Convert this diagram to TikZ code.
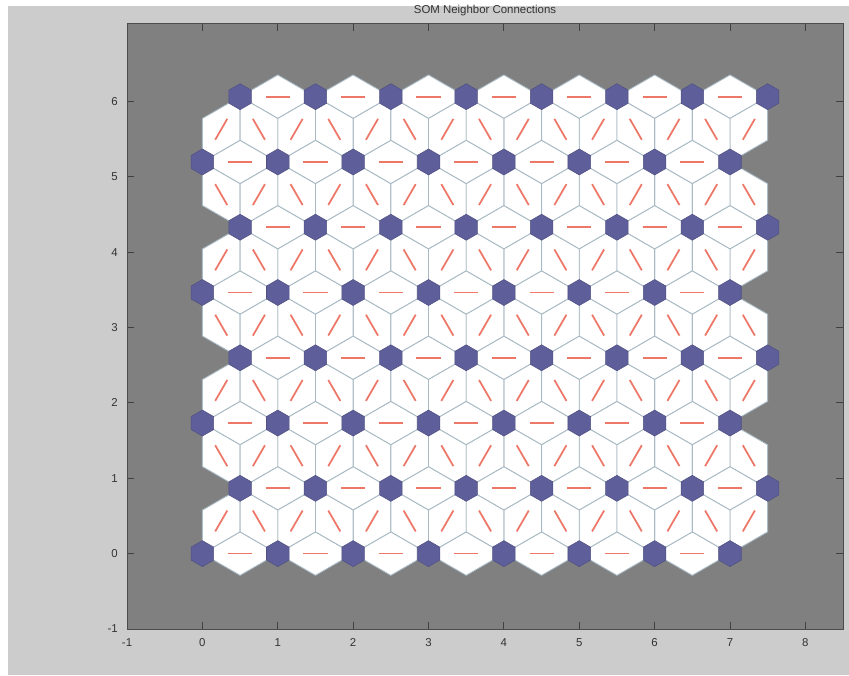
\documentclass[tikz,border=0pt]{standalone}
\usepackage{fontspec}
\setmainfont{Liberation Sans}
\usetikzlibrary{calc, shapes.geometric}
\definecolor{figbg}{RGB}{204,204,204}
\definecolor{axbg}{RGB}{128,128,128}
\definecolor{celledge}{RGB}{168,186,196}
\definecolor{connred}{RGB}{238,120,104}
\definecolor{neuronblue}{RGB}{94,94,154}
% one neighbour connection: white cell between the two neurons, red stroke along it
\newcommand{\somconn}[2]{%
  \filldraw[cellface] (#1) -- ($(#1)!0.57735!30:(#2)$) -- (#2) -- ($(#1)!0.57735!-30:(#2)$) -- cycle;
  \draw[connline] ($(#1)!0.34!(#2)$) -- ($(#1)!0.66!(#2)$);
}

\begin{document}
\begin{tikzpicture}[
    x=1.5074cm, y=1.5074cm,
    every node/.style={font=\fontsize{6.5}{7}\selectfont, text=black!80},
    cellface/.style={fill=white, draw=celledge, line width=0.5pt, line join=round},
    connline/.style={draw=connred, line width=1pt},
    neuron/.style={regular polygon, regular polygon sides=6, regular polygon rotate=30,
                   minimum size=0.52cm, inner sep=0pt, outer sep=0pt,
                   fill=neuronblue, draw=neuronblue!85!black, line width=0.3pt},
    tickmark/.style={draw=black!75, line width=0.5pt},
]
% page and axes
\useasboundingbox (-2.6854,-1.6107) rectangle (8.5790,7.3451);
\fill[white] (-2.6854,-1.6107) rectangle (8.5790,7.3451);
\fill[figbg] (-2.579,-1.6107) rectangle (8.579,7.265);
\coordinate (axll) at (-1,-1);
\coordinate (axur) at (8.5,7.03);
\fill[axbg] (axll) rectangle (axur);
\node (title) at (3.75,7.2) {SOM Neighbor Connections};
% ticks and labels
\foreach \t in {-1,...,8} {
  \draw[tickmark] (\t,-1) -- ++(0,0.09);
  \draw[tickmark] (\t,7.03) -- ++(0,-0.09);
  \node[anchor=north] (xl\t) at (\t,-1.04) {\t};
}
\foreach \t in {-1,...,6} {
  \draw[tickmark] (-1,\t) -- ++(0.09,0);
  \draw[tickmark] (8.5,\t) -- ++(-0.09,0);
  \node[anchor=east] (yl\t) at (-1.04,\t) {\t};
}
\draw[black!70, line width=0.5pt] (axll) rectangle (axur);
% neuron positions (8x8 hexagonal grid)
\foreach \r in {0,...,7} {
  \foreach \i in {0,...,7} {
    \pgfmathsetmacro\xx{\i+0.5*mod(\r,2)}
    \pgfmathsetmacro\yy{\r*0.8660254}
    \coordinate (n-\r-\i) at (\xx,\yy);
  }
}
% connections along a row
\foreach \r in {0,...,7} {
  \foreach \i in {0,...,6} {
    \pgfmathtruncatemacro\j{\i+1}
    \somconn{n-\r-\i}{n-\r-\j}
  }
}
% connections up from even rows
\foreach \r in {0,2,4,6} {
  \pgfmathtruncatemacro\s{\r+1}
  \foreach \i in {0,...,7} {
    \somconn{n-\r-\i}{n-\s-\i}
  }
  \foreach \i in {1,...,7} {
    \pgfmathtruncatemacro\j{\i-1}
    \somconn{n-\r-\i}{n-\s-\j}
  }
}
% connections up from odd rows
\foreach \r in {1,3,5} {
  \pgfmathtruncatemacro\s{\r+1}
  \foreach \i in {0,...,7} {
    \somconn{n-\r-\i}{n-\s-\i}
  }
  \foreach \i in {0,...,6} {
    \pgfmathtruncatemacro\j{\i+1}
    \somconn{n-\r-\i}{n-\s-\j}
  }
}
% neurons
\foreach \r in {0,...,7} {
  \foreach \i in {0,...,7} {
    \node[neuron] (u-\r-\i) at (n-\r-\i) {};
  }
}
\end{tikzpicture}
\end{document}
